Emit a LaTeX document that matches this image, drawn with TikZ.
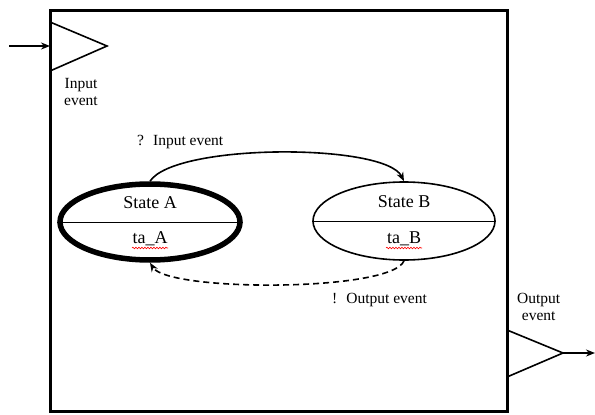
\documentclass[tikz,border=0pt]{standalone}
\usepackage{fontspec}
\setmainfont{Liberation Serif}
\usetikzlibrary{shapes.geometric,arrows.meta,decorations.pathmorphing}
\tikzset{
  lbl/.style={font=\fontsize{15.5}{17}\selectfont, inner sep=0pt, align=center},
  statelbl/.style={font=\fontsize{18}{20}\selectfont, inner sep=0pt},
  stateA/.style={ellipse, draw, line width=5.5pt, minimum width=180pt, minimum height=76pt, inner sep=0pt},
  stateB/.style={ellipse, draw, line width=1.6pt, minimum width=182pt, minimum height=78pt, inner sep=0pt},
  tri/.style={draw, line width=1.6pt, line join=miter},
  conn/.style={line width=1.6pt, -{Stealth[length=9pt,width=7pt]}},
  wavy/.style={draw=red, line width=0.6pt, decorate, decoration={snake, amplitude=0.8pt, segment length=3pt}}
}
\begin{document}
\begin{tikzpicture}[x=1pt,y=-1pt]
\useasboundingbox (0,0) rectangle (595,415);
% main box
\draw[line width=3pt] (50,10) rectangle (507,411);
% input triangle
\coordinate (inTop) at (50,22);
\coordinate (inTip) at (107,46);
\coordinate (inBot) at (50,71);
\coordinate (inMid) at (50,46);
\coordinate (inStart) at (9,46);
\draw[tri] (inTop) -- (inTip) -- (inBot);
\draw[conn] (inStart) -- (inMid);
\node[lbl, anchor=north west] (inlbl) at (64,78) {Input\\event};
% output triangle
\coordinate (outTop) at (507,330);
\coordinate (outTip) at (563,353);
\coordinate (outBot) at (507,377);
\coordinate (outEnd) at (595,353);
\draw[tri] (outTop) -- (outTip) -- (outBot);
\draw[conn] (outTip) -- (outEnd);
\node[lbl, anchor=north west] (outlbl) at (517,293) {Output\\event};
% states
\node[stateA] (A) at (150,222) {};
\draw[line width=1pt] (A.west) -- (A.east);
\node[statelbl] (Atop) at (150,203) {State A};
\node[statelbl] (Abot) at (150,239) {ta\_A};
\draw[wavy] (132,248) -- (168,248);
\node[stateB] (B) at (404,221) {};
\draw[line width=1pt] (B.west) -- (B.east);
\node[statelbl] (Btop) at (404,202) {State B};
\node[statelbl] (Bbot) at (404,239) {ta\_B};
\draw[wavy] (386,248) -- (422,248);
% transitions
\draw[conn] (A.north) .. controls (175,143) and (385,143) .. (B.north);
\draw[conn, dashed, dash pattern=on 6pt off 4pt] (B.south) .. controls (392,292) and (168,292) .. (A.south);
\node[lbl, anchor=west] (inev) at (137,142) {?~ Input event};
\node[lbl, anchor=west] (outev) at (332,300) {!~ Output event};
\end{tikzpicture}
\end{document}
